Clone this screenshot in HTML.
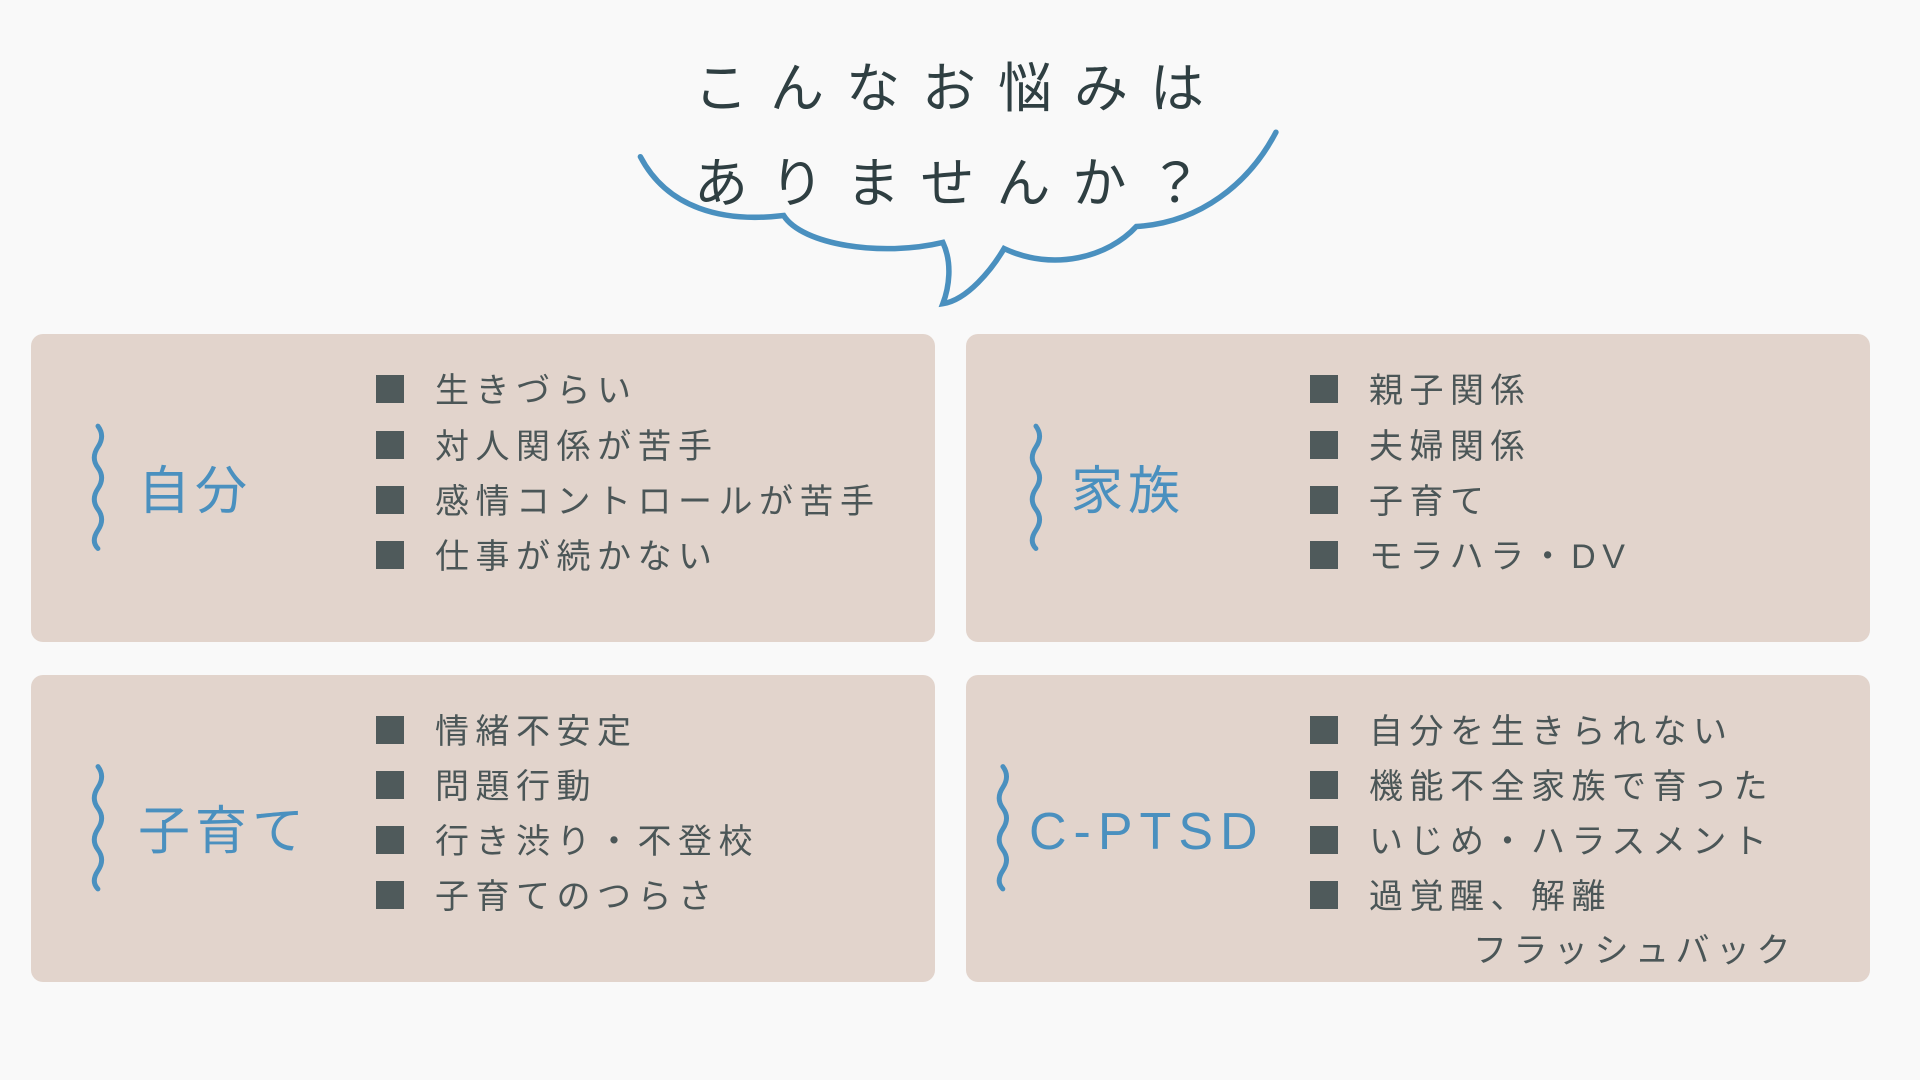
<!DOCTYPE html>
<html><head><meta charset="utf-8"><style>
body{margin:0;width:1920px;height:1080px;background:#f9f9f9;position:relative;overflow:hidden;font-family:"Liberation Sans","Noto Sans CJK JP",sans-serif}
.box{position:absolute;background:#e2d4cc;border-radius:12px}
.t{position:absolute;white-space:nowrap}
.title{color:#2f3f42;font-size:54px;letter-spacing:22px;font-weight:400}
.lab{color:#4a90bf;font-size:52px;letter-spacing:5px;line-height:1}
.it{color:#4b5657;font-size:34px;letter-spacing:6.5px;line-height:1}
.sq{position:absolute;width:28px;height:28px;background:#4f5a5b}
svg{position:absolute;left:0;top:0}
</style></head><body>
<div class="box" style="left:31px;top:334px;width:904px;height:308px"></div>
<div class="box" style="left:966px;top:334px;width:904px;height:308px"></div>
<div class="box" style="left:31px;top:675px;width:904px;height:307px"></div>
<div class="box" style="left:966px;top:675px;width:904px;height:307px"></div>

<svg width="1920" height="1080" viewBox="0 0 1568 882">
<path d="M523,128 C545,170 590,182 640,176 C655,200 720,210 770,198 C778,215 775,235 770,248 C790,245 810,220 820,203 C860,222 905,210 928,185 C980,182 1020,150 1042,108" fill="none" stroke="#4a90bf" stroke-width="4.5" stroke-linecap="round"/>
<g fill="none" stroke="#4a90bf" stroke-width="4" stroke-linecap="round">
<path d="M80,348 q6,8 0,17 t0,17 t0,17 t0,17 t0,17 t0,15"/>
<path d="M846,348 q6,8 0,17 t0,17 t0,17 t0,17 t0,17 t0,15"/>
<path d="M80,626 q6,8 0,17 t0,17 t0,17 t0,17 t0,17 t0,15"/>
<path d="M819,626 q6,8 0,17 t0,17 t0,17 t0,17 t0,17 t0,15"/>
</g>
</svg>

<div class="t title" style="left:694px;top:44px">こんなお悩みは</div>
<div class="t title" style="left:694px;top:139px">ありませんか？</div>

<div class="t lab" style="left:138px;top:466px">自分</div>
<div class="t lab" style="left:1071px;top:466px">家族</div>
<div class="t lab" style="left:138px;top:806px">子育て</div>
<div class="t lab" style="left:1029px;top:806px;letter-spacing:7px">C-PTSD</div>

<div class="sq" style="left:376px;top:375px"></div><div class="t it" style="left:435px;top:374px">生きづらい</div>
<div class="sq" style="left:376px;top:431px"></div><div class="t it" style="left:435px;top:430px">対人関係が苦手</div>
<div class="sq" style="left:376px;top:486px"></div><div class="t it" style="left:435px;top:485px">感情コントロールが苦手</div>
<div class="sq" style="left:376px;top:541px"></div><div class="t it" style="left:435px;top:540px">仕事が続かない</div>

<div class="sq" style="left:1310px;top:375px"></div><div class="t it" style="left:1369px;top:374px">親子関係</div>
<div class="sq" style="left:1310px;top:431px"></div><div class="t it" style="left:1369px;top:430px">夫婦関係</div>
<div class="sq" style="left:1310px;top:486px"></div><div class="t it" style="left:1369px;top:485px">子育て</div>
<div class="sq" style="left:1310px;top:541px"></div><div class="t it" style="left:1369px;top:540px">モラハラ・DV</div>

<div class="sq" style="left:376px;top:716px"></div><div class="t it" style="left:435px;top:715px">情緒不安定</div>
<div class="sq" style="left:376px;top:771px"></div><div class="t it" style="left:435px;top:770px">問題行動</div>
<div class="sq" style="left:376px;top:826px"></div><div class="t it" style="left:435px;top:825px">行き渋り・不登校</div>
<div class="sq" style="left:376px;top:881px"></div><div class="t it" style="left:435px;top:880px">子育てのつらさ</div>

<div class="sq" style="left:1310px;top:716px"></div><div class="t it" style="left:1369px;top:715px">自分を生きられない</div>
<div class="sq" style="left:1310px;top:771px"></div><div class="t it" style="left:1369px;top:770px">機能不全家族で育った</div>
<div class="sq" style="left:1310px;top:826px"></div><div class="t it" style="left:1369px;top:825px">いじめ・ハラスメント</div>
<div class="sq" style="left:1310px;top:881px"></div><div class="t it" style="left:1369px;top:880px">過覚醒、解離</div>
<div class="t it" style="left:1473px;top:934px">フラッシュバック</div>
</body></html>
